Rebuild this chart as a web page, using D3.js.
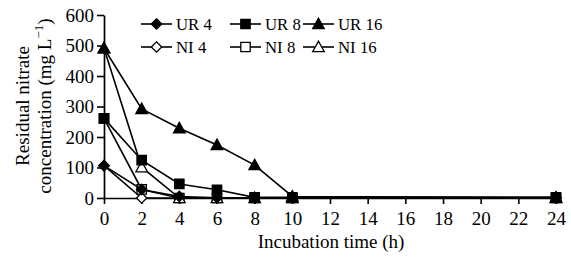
<!DOCTYPE html>
<html><head><meta charset="utf-8">
<script src="https://cdn.jsdelivr.net/npm/d3@7/dist/d3.min.js"></script>
<style>body{margin:0;background:#fff}svg{display:block}text{font-family:"Liberation Serif","Times New Roman",serif;fill:#000}</style>
</head><body><svg id="c" width="571" height="257"></svg>
<script>
const times = [0, 2, 4, 6, 8, 10, 24];
const xTicks = [0, 2, 4, 6, 8, 10, 12, 14, 16, 18, 20, 22, 24];
const yTicks = [0, 100, 200, 300, 400, 500, 600];
const seriesNames = ["UR 4", "UR 8", "UR 16", "NI 4", "NI 8", "NI 16"];
const ur4 = [106, 28, 5, 1, 1, 1, 1];
const ur8 = [261, 124, 46, 27, 2, 2, 2];
const ur16 = [491, 292, 229, 174, 108, 5, 2];
const ni4 = [106, 0, 0, 0, 0, 0, 0];
const ni8 = [261, 28, 0, 0, 0, 0, 0];
const ni16 = [491, 101, 0, 0, 0, 0, 0];

const shapes = {"UR 4":"diamond","UR 8":"square","UR 16":"triangle","NI 4":"diamond","NI 8":"square","NI 16":"triangle"};
const filled = {"UR 4":true,"UR 8":true,"UR 16":true,"NI 4":false,"NI 8":false,"NI 16":false};
const values = {"UR 4":ur4,"UR 8":ur8,"UR 16":ur16,"NI 4":ni4,"NI 8":ni8,"NI 16":ni16};

const svg = d3.select("#c");
const x = d3.scaleLinear().domain([0, 24]).range([104, 556]);
const y = d3.scaleLinear().domain([0, 600]).range([198, 15]);
const FS = 19;
const LFS = 16.8;

function shapePath(t){
  if(t==="square") return "M-4.7,-4.7H4.7V4.7H-4.7Z";
  if(t==="diamond") return "M0,-5.2L5.2,0L0,5.2L-5.2,0Z";
  return "M0,-5.8L5.8,4.6L-5.8,4.6Z";
}

// axes
const gy = svg.append("g").attr("transform","translate(104,0)")
  .call(d3.axisLeft(y).tickValues(yTicks).tickSize(7).tickPadding(4).tickSizeOuter(0));
const gx = svg.append("g").attr("transform","translate(0,198)")
  .call(d3.axisBottom(x).tickValues(xTicks).tickSize(6).tickSizeOuter(0));
[gx, gy].forEach(g=>{
  g.select(".domain").attr("stroke","#000").attr("stroke-width",1.7);
  g.selectAll(".tick line").attr("stroke","#000").attr("stroke-width",1.6);
  g.selectAll("text").attr("font-size",FS).attr("font-family","Liberation Serif").attr("fill","#000");
});
gx.selectAll(".tick text").attr("y",27).attr("dy","0");
gy.selectAll(".tick text").attr("x",-10).attr("dy","0.34em");

// series: draw NI first then UR
const order = ["NI 4","NI 8","NI 16","UR 4","UR 8","UR 16"];
const line = d3.line().x(d=>x(d[0])).y(d=>y(d[1]));
order.forEach(name=>{
  const pts = times.map((t,i)=>[t, values[name][i]]);
  svg.append("path").attr("d", line(pts)).attr("fill","none").attr("stroke","#000").attr("stroke-width",1.6);
  svg.append("g").selectAll("path").data(pts).join("path")
    .attr("transform", d=>`translate(${x(d[0])},${y(d[1])})`)
    .attr("d", shapePath(shapes[name]))
    .attr("fill", filled[name] ? "#000" : "#fff")
    .attr("stroke","#000").attr("stroke-width",1.3);
});

// legend
const legX = [141, 230, 303];
const legY = [24, 47];
seriesNames.forEach((name,i)=>{
  const col = i%3, row = Math.floor(i/3);
  const lx = legX[col], ly = legY[row];
  const g = svg.append("g");
  g.append("line").attr("x1",lx).attr("x2",lx+31).attr("y1",ly).attr("y2",ly).attr("stroke","#000").attr("stroke-width",1.6);
  g.append("path").attr("transform",`translate(${lx+15.5},${ly})`).attr("d",shapePath(shapes[name]))
    .attr("fill", filled[name] ? "#000" : "#fff").attr("stroke","#000").attr("stroke-width",1.3);
  g.append("text").attr("x",lx+35).attr("y",ly).attr("dy","0.34em").attr("font-size",LFS).text(name);
});

// axis titles
svg.append("text").attr("x",331).attr("y",248).attr("text-anchor","middle").attr("font-size",FS).text("Incubation time (h)");
svg.append("text").attr("transform","translate(29,106) rotate(-90)").attr("text-anchor","middle").attr("font-size",FS).text("Residual nitrate");
const t2 = svg.append("text").attr("transform","translate(51,106) rotate(-90)").attr("text-anchor","middle").attr("font-size",FS);
t2.append("tspan").text("concentration (mg L");
t2.append("tspan").attr("font-size",13).attr("dy",-8).text("\u22121");
t2.append("tspan").attr("dy",8).text(")");
</script></body></html>
